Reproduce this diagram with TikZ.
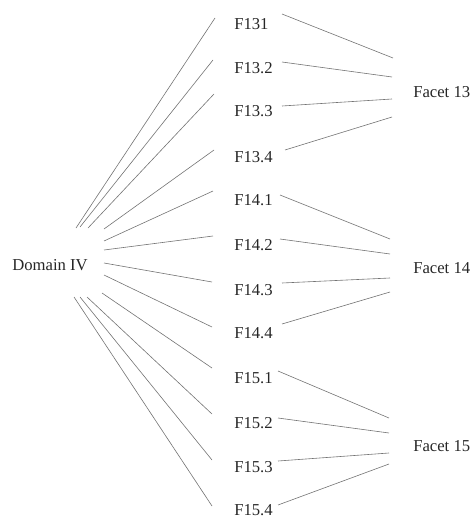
\documentclass[tikz,border=0pt]{standalone}
\usepackage{fontspec}
\setmainfont{Liberation Serif}
\usepackage{tikz}

\tikzset{
  lbl/.style={anchor=west, inner sep=0pt, text=black!85, font=\fontsize{12.5}{15}\selectfont},
  link/.style={draw=black!55, line width=0.45pt}
}

\begin{document}
\begin{tikzpicture}[x=0.75pt, y=-0.75pt]
            \useasboundingbox (0,0) rectangle (473,517);
            % left and right columns
            \node[lbl] (dom) at (12,265) {Domain IV};
            \node[lbl] (fac13) at (413,92) {Facet 13};
            \node[lbl] (fac14) at (413,268) {Facet 14};
            \node[lbl] (fac15) at (413,446) {Facet 15};
            % middle column
            \foreach \lab/\y [count=\i] in {F131/24, F13.2/68, F13.3/111, F13.4/157, F14.1/200, F14.2/245, F14.3/290, F14.4/333, F15.1/378, F15.2/423, F15.3/467, F15.4/510}
                \node[lbl] (f\i) at (234,\y) {\lab};
            % fan from the domain
            \foreach \i/\ax/\ay/\bx/\by in {1/76/228/215/18, 2/80/227/213/60, 3/88/228/214/94, 4/104/229/214/150, 5/104/241/213/191, 6/104/250/213/236, 7/104/263/212/282, 8/104/275/212/327, 9/102/293/212/368, 10/87/297/212/414, 11/80/297/212/460, 12/74/297/212/506} {
                \coordinate (dom-\i) at (\ax,\ay);
                \coordinate (f\i-in) at (\bx,\by);
                \draw[link] (dom-\i) -- (f\i-in);
            }
            % items to facets
            \foreach \i/\ax/\ay/\bx/\by in {1/282/14/393/58, 2/282/62/392/77, 3/282/106/392/99, 4/285/150/392/117, 5/280/195/390/239, 6/280/239/390/254, 7/282/283/390/278, 8/282/324/390/292, 9/278/371/389/418, 10/278/418/389/433, 11/278/461/389/453, 12/278/505/389/464} {
                \coordinate (f\i-out) at (\ax,\ay);
                \coordinate (fac-\i) at (\bx,\by);
                \draw[link] (f\i-out) -- (fac-\i);
            }
        \end{tikzpicture}
\end{document}
